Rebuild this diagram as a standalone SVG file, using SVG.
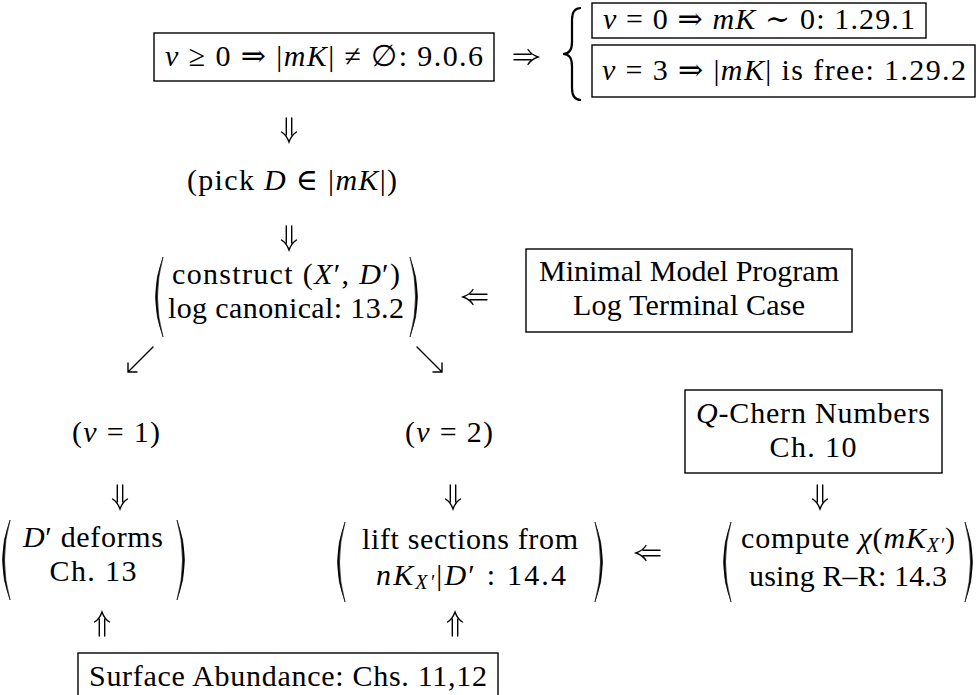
<svg xmlns="http://www.w3.org/2000/svg" xmlns:xlink="http://www.w3.org/1999/xlink" width="979" height="695" viewBox="0 0 979 695">
<style>
.t{font-family:"Liberation Serif","DejaVu Serif",serif;font-size:30px;fill:#000;text-anchor:middle}
.i{font-style:italic}
.s{font-size:20px}
.box{fill:none;stroke:#000;stroke-width:1.4}
.ar{fill:none;stroke:#000;stroke-width:1.4;stroke-linecap:round}
.pr{fill:#000;stroke:#000;stroke-width:0.6}
</style>
<defs>
<path id="ad" class="ar" d="M-2.7,-12 V5 M2.7,-12 V5 M-7.5,2 Q-2.5,5 0,12 Q2.5,5 7.5,2"/>
<path id="lp" class="pr" d="M7,-40 Q-8,0 7,40 Q-4,0 7,-40 Z"/>
</defs>
<rect width="979" height="695" fill="#fff"/>

<g id="connectors">
<use xlink:href="#ad" href="#ad" transform="translate(526,57) rotate(-90)"/>
<use xlink:href="#ad" href="#ad" transform="translate(289,130)"/>
<use xlink:href="#ad" href="#ad" transform="translate(289,238)"/>
<use xlink:href="#ad" href="#ad" transform="translate(475,297) rotate(90)"/>
<path class="ar" d="M153,347 L128,372 M128,363 L128,372 L137,372"/>
<path class="ar" d="M417,347 L442,372 M442,363 L442,372 L433,372"/>
<use xlink:href="#ad" href="#ad" transform="translate(120,497)"/>
<use xlink:href="#ad" href="#ad" transform="translate(453,497)"/>
<use xlink:href="#ad" href="#ad" transform="translate(820,497)"/>
<use xlink:href="#ad" href="#ad" transform="translate(648,553) rotate(90)"/>
<use xlink:href="#ad" href="#ad" transform="translate(102,624) scale(1,-1)"/>
<use xlink:href="#ad" href="#ad" transform="translate(455,624) scale(1,-1)"/>
<path d="M581,8 Q572,8 572,20 V42 Q572,54 563,54 Q572,54 572,66 V88 Q572,100 581,100" fill="none" stroke="#000" stroke-width="2.2"/>
</g>

<g id="n-top">
<rect class="box" x="154" y="33" width="340" height="48"/>
<text class="t" x="324" y="66" textLength="318"><tspan class="i">ν</tspan> ≥ 0 ⇒ |<tspan class="i">mK</tspan>| ≠ ∅:  9.0.6</text>
</g>

<g id="n-nu0">
<rect class="box" x="592" y="3" width="334" height="35"/>
<text class="t" x="759" y="29" textLength="312"><tspan class="i">ν</tspan> = 0 ⇒ <tspan class="i">mK</tspan> ∼ 0:  1.29.1</text>
</g>

<g id="n-nu3">
<rect class="box" x="592" y="45" width="383" height="52"/>
<text class="t" x="784" y="80" textLength="364"><tspan class="i">ν</tspan> = 3 ⇒ |<tspan class="i">mK</tspan>| is free:  1.29.2</text>
</g>

<g id="n-pick">
<text class="t" x="292" y="190" textLength="210">(pick <tspan class="i">D</tspan> ∈ |<tspan class="i">mK</tspan>|)</text>
</g>

<g id="n-construct">
<use xlink:href="#lp" href="#lp" transform="translate(156,297)"/>
<use xlink:href="#lp" href="#lp" transform="translate(417,297) scale(-1,1)"/>
<text class="t" x="286" y="284" textLength="228">construct (<tspan class="i">X</tspan>′, <tspan class="i">D</tspan>′)</text>
<text class="t" x="286" y="318" textLength="236">log canonical: 13.2</text>
</g>

<g id="n-mmp">
<rect class="box" x="526" y="249" width="326" height="83"/>
<text class="t" x="689" y="281" textLength="300">Minimal Model Program</text>
<text class="t" x="689" y="315" textLength="232">Log Terminal Case</text>
</g>

<g id="n-nu1">
<text class="t" x="116" y="442" textLength="88">(<tspan class="i">ν</tspan> = 1)</text>
</g>

<g id="n-nu2">
<text class="t" x="449" y="442" textLength="88">(<tspan class="i">ν</tspan> = 2)</text>
</g>

<g id="n-chern">
<rect class="box" x="685" y="390" width="257" height="83"/>
<text class="t" x="813" y="423" textLength="234"><tspan class="i">Q</tspan>-Chern Numbers</text>
<text class="t" x="813" y="457" textLength="87">Ch. 10</text>
</g>

<g id="n-deforms">
<use xlink:href="#lp" href="#lp" transform="translate(3,560)"/>
<use xlink:href="#lp" href="#lp" transform="translate(184,560) scale(-1,1)"/>
<text class="t" x="93" y="547" textLength="140"><tspan class="i">D</tspan>′ deforms</text>
<text class="t" x="93" y="581" textLength="87">Ch. 13</text>
</g>

<g id="n-lift">
<use xlink:href="#lp" href="#lp" transform="translate(338,562)"/>
<use xlink:href="#lp" href="#lp" transform="translate(602,562) scale(-1,1)"/>
<text class="t" x="470" y="549" textLength="216">lift sections from</text>
<text class="t" x="471" y="585" textLength="190"><tspan class="i">nK</tspan><tspan class="i s" dy="4">X′</tspan><tspan dy="-4">|</tspan><tspan class="i">D</tspan>′ :  14.4</text>
</g>

<g id="n-compute">
<use xlink:href="#lp" href="#lp" transform="translate(724,562)"/>
<use xlink:href="#lp" href="#lp" transform="translate(972,562) scale(-1,1)"/>
<text class="t" x="848" y="548" textLength="214">compute <tspan class="i">χ</tspan>(<tspan class="i">mK</tspan><tspan class="i s" dy="4">X′</tspan><tspan dy="-4">)</tspan></text>
<text class="t" x="848" y="586" textLength="198">using R–R: 14.3</text>
</g>

<g id="n-surface">
<rect class="box" x="78" y="653" width="420" height="46"/>
<text class="t" x="288" y="686" textLength="398">Surface Abundance: Chs. 11,12</text>
</g>
</svg>
